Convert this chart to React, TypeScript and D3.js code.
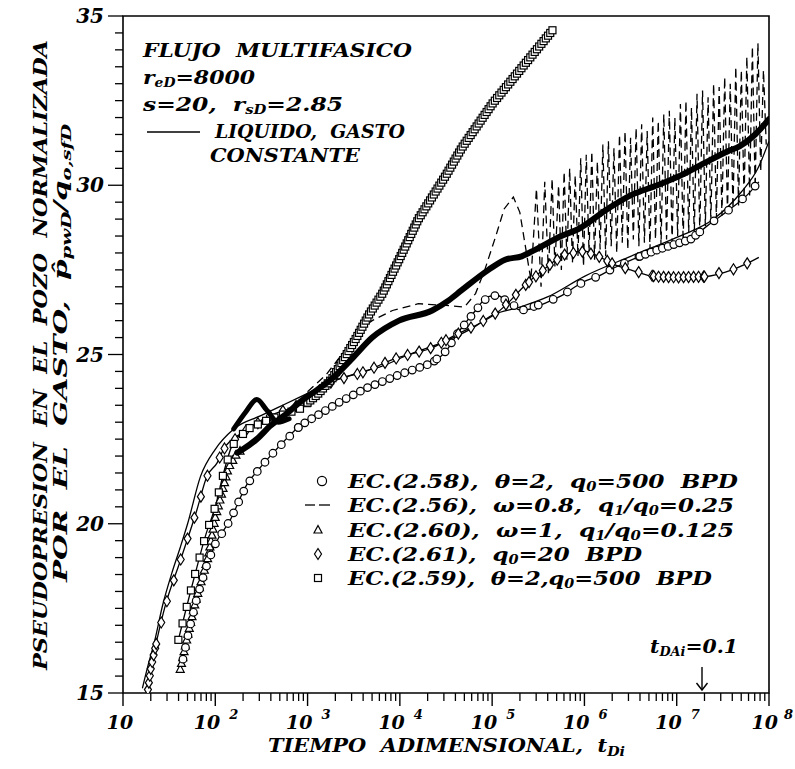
import React from 'react';
import * as d3 from 'd3';

const W = 795;
const H = 769;
const PLOT = { left: 123, right: 769, top: 16, bottom: 693 };

// ---------- data (x stored as log10 of t_Di) ----------
const liquidExp = [1.21, 1.27, 1.34, 1.43, 1.53, 1.62, 1.7, 1.84, 2.0, 2.2, 2.5, 2.73, 3.0, 3.27, 3.6, 3.8, 4.1, 4.5, 4.8, 5.0, 5.3, 5.6, 6.0, 6.5, 7.0, 7.4, 7.7, 7.88, 8.0];
const liquidVal = [15.14, 15.8, 16.5, 17.6, 18.55, 19.3, 20.0, 21.4, 22.2, 22.8, 23.2, 23.5, 23.85, 24.2, 24.5, 24.65, 25.0, 25.4, 25.8, 26.16, 26.4, 26.7, 27.31, 27.9, 28.46, 29.0, 29.8, 30.5, 31.3];

const circleExp = [1.65, 1.72, 1.8, 1.91, 2.0, 2.16, 2.34, 2.5, 2.63, 2.92, 3.35, 3.63, 3.99, 4.35, 4.5, 4.62, 4.82, 4.95, 5.05, 5.15, 5.32, 5.6, 5.79, 5.9, 6.0, 6.14, 6.33, 6.6, 6.8, 6.97, 7.15, 7.33, 7.58, 7.76, 7.89];
const circleVal = [16.0, 16.9, 17.8, 18.8, 19.4, 20.1, 21.15, 21.7, 22.1, 22.9, 23.6, 24.0, 24.4, 24.75, 25.1, 25.6, 26.3, 26.7, 26.75, 26.6, 26.3, 26.55, 26.8, 27.0, 27.16, 27.3, 27.57, 27.9, 28.1, 28.25, 28.4, 28.8, 29.3, 29.7, 30.1];

const dashedExp = [3.0, 3.2, 3.4, 3.55, 3.7, 3.92, 4.2, 4.5, 4.7, 4.82, 4.92, 5.04, 5.13, 5.23, 5.3, 5.36, 5.42,
  5.48, 5.53, 5.57, 5.61, 5.65, 5.68, 5.72, 5.75, 5.78, 5.81, 5.84, 5.87, 5.9, 5.93, 5.96, 5.99,
  6.02, 6.05, 6.08, 6.11, 6.14, 6.17, 6.2, 6.23, 6.26, 6.29, 6.32, 6.35, 6.38, 6.41, 6.44, 6.47,
  6.5, 6.53, 6.56, 6.59, 6.62, 6.65, 6.68, 6.71, 6.74, 6.77, 6.8, 6.83, 6.86, 6.89, 6.92, 6.95,
  6.98, 7.01, 7.04, 7.07, 7.1, 7.13, 7.16, 7.19, 7.22, 7.25, 7.28, 7.31, 7.34, 7.37, 7.4, 7.43,
  7.46, 7.49, 7.52, 7.55, 7.58, 7.61, 7.64, 7.67, 7.7, 7.73, 7.76, 7.79, 7.82, 7.85, 7.88, 7.91, 7.94, 7.97];
const dashedVal = [23.9, 24.4, 25.1, 25.7, 26.0, 26.3, 26.5, 26.45, 26.4, 26.8, 27.5, 28.5, 29.3, 29.65, 29.2, 28.2, 27.2,
  29.9, 27.0, 30.1, 27.4, 30.2, 27.6, 30.0, 27.5, 30.4, 27.8, 30.5, 27.7, 30.3, 27.9, 30.8, 27.6,
  30.9, 28.0, 31.0, 27.8, 30.7, 28.1, 31.2, 27.9, 31.3, 28.2, 31.1, 28.0, 31.5, 28.3, 31.6, 28.1,
  31.4, 28.4, 31.7, 28.2, 31.8, 28.3, 31.6, 28.1, 32.0, 28.4, 31.9, 28.2, 32.1, 28.4, 32.2, 28.3,
  32.0, 28.5, 32.4, 28.3, 32.5, 28.6, 32.3, 28.5, 32.7, 28.6, 32.8, 28.8, 32.6, 28.9, 33.0, 29.0,
  32.9, 29.1, 33.2, 29.2, 33.0, 29.3, 33.5, 29.4, 33.4, 29.6, 33.8, 29.7, 34.1, 29.9, 34.2, 30.4, 33.4, 31.2];

const triangleExp = [1.62, 1.7, 1.79, 1.92, 2.0, 2.08, 2.14, 2.24, 2.3, 2.45, 2.6, 2.75, 2.92, 3.1, 3.27, 3.49, 3.7, 3.99, 4.35, 4.53, 4.67, 4.96, 5.14, 5.32, 5.47, 5.75, 5.93, 6.25, 6.5, 6.79, 7.05, 7.33, 7.55, 7.68, 7.85, 8.0];
const triangleVal = [15.7, 16.7, 17.75, 19.0, 20.2, 21.0, 21.65, 22.1, 22.2, 22.5, 22.9, 23.2, 23.6, 23.95, 24.3, 24.9, 25.5, 26.0, 26.3, 26.6, 26.9, 27.5, 27.8, 27.9, 28.1, 28.5, 28.7, 29.3, 29.7, 30.0, 30.3, 30.7, 31.0, 31.15, 31.5, 31.95];
const bumpExp = [2.2, 2.33, 2.45, 2.56, 2.68, 2.8];
const bumpVal = [22.8, 23.3, 23.67, 23.35, 23.0, 23.1];

const diamondExp = [1.27, 1.3, 1.33, 1.45, 1.62, 1.8, 1.91, 2.02, 2.09, 2.3, 2.6, 2.9, 3.27, 3.63, 3.92, 4.1, 4.35, 4.62, 4.85, 5.07, 5.2, 5.34, 5.6, 5.79, 6.0, 6.15, 6.33, 6.5, 6.77, 7.0, 7.3, 7.6, 7.74, 7.89];
const diamondVal = [15.1, 15.7, 16.1, 17.5, 18.9, 20.4, 21.4, 21.8, 22.2, 22.7, 23.2, 23.5, 24.2, 24.5, 24.85, 25.0, 25.2, 25.6, 25.9, 26.27, 26.6, 27.0, 27.6, 27.96, 28.05, 27.9, 27.65, 27.5, 27.3, 27.28, 27.3, 27.5, 27.66, 27.87];

const squareExp = [1.6, 1.78, 1.9, 2.0, 2.09, 2.18, 2.35, 2.6, 2.92, 3.1, 3.27, 3.4, 3.53, 3.67, 3.81, 3.99, 4.2, 4.5, 4.67, 5.0, 5.33, 5.66];
const squareVal = [16.57, 18.5, 19.7, 20.5, 21.5, 22.3, 22.8, 23.1, 23.4, 23.8, 24.3, 24.9, 25.5, 26.2, 26.8, 27.8, 29.0, 30.3, 31.1, 32.4, 33.5, 34.6];

// marker runs: [fromExp, toExp, spacing in px along the curve]
const circleRuns = [[1.64, 2.9, 12], [2.9, 4.4, 8], [4.4, 5.5, 11], [5.5, 6.6, 16], [6.6, 7.25, 6], [7.25, 7.9, 18]];
const squareRuns = [[1.6, 2.3, 17], [2.3, 3.0, 9], [3.0, 5.66, 3.5]];
const diamondRuns = [[1.27, 1.36, 7], [1.36, 2.1, 22], [2.1, 3.6, 14], [3.6, 4.5, 12], [4.5, 5.4, 14], [5.4, 6.3, 9], [6.3, 6.75, 14], [6.75, 7.3, 5], [7.3, 7.9, 15]];
const triangleRuns = [[1.62, 2.28, 6]];

const yTicks = [15, 20, 25, 30, 35];
const xDecades = [1, 2, 3, 4, 5, 6, 7, 8];

const legendLabels = ['2.58', '2.56', '2.60', '2.61', '2.59'];

const FONT = 'DejaVu Serif';

const xScale = d3.scaleLog().domain([10, 1e8]).range([PLOT.left, PLOT.right]);
const yScale = d3.scaleLinear().domain([15, 35]).range([PLOT.bottom, PLOT.top]);

function toPts(exp: number[], val: number[]): [number, number][] {
  return exp.map((e, i) => [xScale(Math.pow(10, e)), yScale(val[i])] as [number, number]);
}

function sampleMarkers(pts: [number, number][], runs: number[][]) {
  const out: [number, number][] = [];
  for (const [a, b, sp] of runs) {
    const x0 = xScale(Math.pow(10, a));
    const x1 = xScale(Math.pow(10, b));
    let since = sp;
    for (let i = 0; i < pts.length - 1; i++) {
      const p = pts[i];
      const q = pts[i + 1];
      if (q[0] <= x0 || p[0] >= x1) continue;
      const dx = q[0] - p[0];
      const t0 = p[0] < x0 ? (x0 - p[0]) / dx : 0;
      const t1 = q[0] > x1 ? (x1 - p[0]) / dx : 1;
      const segLen = Math.hypot(q[0] - p[0], q[1] - p[1]);
      const ux = (q[0] - p[0]) / segLen;
      const uy = (q[1] - p[1]) / segLen;
      const sx = p[0] + (q[0] - p[0]) * t0;
      const sy = p[1] + (q[1] - p[1]) * t0;
      const L = segLen * (t1 - t0);
      let s = 0;
      while (L - s >= sp - since) {
        s += sp - since;
        out.push([sx + ux * s, sy + uy * s]);
        since = 0;
      }
      since += L - s;
    }
  }
  return out;
}

function Marker({ type, x, y, k }: { type: string; x: number; y: number; k?: number }) {
  const sw = 1.2;
  const s = k || 1;
  if (type === 'circle') return <circle cx={x} cy={y} r={3.8 * s} fill="white" stroke="black" strokeWidth={sw} />;
  if (type === 'square') return <rect x={x - 3.5 * s} y={y - 3.5 * s} width={7 * s} height={7 * s} fill="white" stroke="black" strokeWidth={sw} />;
  if (type === 'diamond') return <path d={`M${x},${y - 5.5 * s}L${x + 3.5 * s},${y}L${x},${y + 5.5 * s}L${x - 3.5 * s},${y}Z`} fill="white" stroke="black" strokeWidth={sw} />;
  return <path d={`M${x},${y - 4.5 * s}L${x + 4 * s},${y + 3 * s}L${x - 4 * s},${y + 3 * s}Z`} fill="white" stroke="black" strokeWidth={sw} />;
}

const lineGen = d3.line<[number, number]>().x(d => d[0]).y(d => d[1]).curve(d3.curveMonotoneX);
const linLine = d3.line<[number, number]>().x(d => d[0]).y(d => d[1]);

export default function App() {
  const liquid = toPts(liquidExp, liquidVal);
  const circles = toPts(circleExp, circleVal);
  const dashed = toPts(dashedExp, dashedVal);
  const tri = toPts(triangleExp, triangleVal);
  const triThick = toPts(triangleExp.filter(e => e >= 2.24), triangleVal.filter((v, i) => triangleExp[i] >= 2.24));
  const bump = toPts(bumpExp, bumpVal);
  const dia = toPts(diamondExp, diamondVal);
  const sq = toPts(squareExp, squareVal);

  const textStyle = { fontFamily: FONT, fontWeight: 'bold' as const, fontStyle: 'italic' as const, whiteSpace: 'pre' as const };

  const minorX: number[] = [];
  for (let k = 1; k < 8; k++) for (let m = 2; m <= 9; m++) minorX.push(m * Math.pow(10, k));
  const minorY: number[] = [];
  for (let v = 15; v <= 35.001; v += 0.5) minorY.push(v);

  const legendY = [481, 505, 530, 554, 578];

  return (
    <svg width={W} height={H} style={{ position: 'absolute', left: 0, top: 0, background: 'white' }}>
      <defs>
        <clipPath id="plotClip">
          <rect x={PLOT.left} y={PLOT.top} width={PLOT.right - PLOT.left} height={PLOT.bottom - PLOT.top} />
        </clipPath>
      </defs>
      <rect x={0} y={0} width={W} height={H} fill="white" />

      {/* frame */}
      <path d={`M${PLOT.left},${PLOT.top}H${PLOT.right}V${PLOT.bottom}H${PLOT.left}Z`} fill="none" stroke="black" strokeWidth={1.6} />

      {/* y ticks */}
      {minorY.map(v => (
        <line key={'y' + v} x1={PLOT.left - (Math.abs(v % 5) < 1e-6 ? 15 : 8)} x2={PLOT.left} y1={yScale(v)} y2={yScale(v)} stroke="black" strokeWidth={1.3} />
      ))}
      {yTicks.map(v => (
        <text key={'yl' + v} x={104} y={yScale(v) + 7} textAnchor="end" fontSize={20} style={textStyle}>{v}</text>
      ))}

      {/* x ticks */}
      {minorX.map(t => (
        <line key={'x' + t} x1={xScale(t)} x2={xScale(t)} y1={PLOT.bottom} y2={PLOT.bottom + 8} stroke="black" strokeWidth={1.3} />
      ))}
      {xDecades.map(k => (
        <line key={'xm' + k} x1={xScale(Math.pow(10, k))} x2={xScale(Math.pow(10, k))} y1={PLOT.bottom} y2={PLOT.bottom + 13} stroke="black" strokeWidth={1.4} />
      ))}
      {xDecades.map(k => {
        const xt = xScale(Math.pow(10, k));
        if (k === 1) return <text key={'xl' + k} x={xt - 3} y={729} textAnchor="middle" fontSize={19} style={textStyle}>10</text>;
        const off = k === 8 ? 9 : 5;
        const sup = k === 8 ? 6 : 9;
        return (
          <g key={'xl' + k}>
            <text x={xt + off} y={729} textAnchor="end" fontSize={19} style={textStyle}>10</text>
            <text x={xt + off + sup} y={719} fontSize={13} style={textStyle}>{k}</text>
          </g>
        );
      })}

      {/* axis titles */}
      <text x={268} y={752} fontSize={19} textLength={357} lengthAdjust="spacingAndGlyphs" style={textStyle}>
        TIEMPO  ADIMENSIONAL,  t<tspan fontSize={13} dy={4}>Di</tspan>
      </text>
      <g transform="translate(47,670) rotate(-90)">
        <text x={0} y={0} fontSize={18} textLength={630} lengthAdjust="spacingAndGlyphs" style={textStyle}>PSEUDOPRESION  EN  EL  POZO  NORMALIZADA</text>
      </g>
      <g transform="translate(67,582) rotate(-90)">
        <text x={0} y={0} fontSize={18} textLength={458} lengthAdjust="spacingAndGlyphs" style={textStyle}>
          POR  EL  GASTO,  {'p\u0302'}<tspan fontSize={12} dy={4}>pwD</tspan><tspan dy={-4}>/q</tspan><tspan fontSize={12} dy={4}>o,sfD</tspan>
        </text>
      </g>

      {/* curves */}
      <g clipPath="url(#plotClip)">
        <path d={lineGen(liquid) || ''} fill="none" stroke="black" strokeWidth={1.3} />
        <path d={lineGen(circles) || ''} fill="none" stroke="black" strokeWidth={1.3} />
        <path d={lineGen(dia) || ''} fill="none" stroke="black" strokeWidth={1.3} />
        <path d={lineGen(sq) || ''} fill="none" stroke="black" strokeWidth={1.3} />
        <path d={lineGen(tri) || ''} fill="none" stroke="black" strokeWidth={1.3} />
        <path d={linLine(dashed) || ''} fill="none" stroke="black" strokeWidth={1.3} strokeDasharray="8,5" />
        {sampleMarkers(tri, triangleRuns).map((p, i) => <Marker key={'t' + i} type="triangle" x={p[0]} y={p[1]} />)}
        {sampleMarkers(circles, circleRuns).map((p, i) => <Marker key={'c' + i} type="circle" x={p[0]} y={p[1]} />)}
        {sampleMarkers(dia, diamondRuns).map((p, i) => <Marker key={'d' + i} type="diamond" x={p[0]} y={p[1]} />)}
        {sampleMarkers(sq, squareRuns).map((p, i) => <Marker key={'s' + i} type="square" x={p[0]} y={p[1]} />)}
        <path d={lineGen(triThick) || ''} fill="none" stroke="black" strokeWidth={6} strokeLinejoin="round" strokeLinecap="round" />
        <path d={lineGen(bump) || ''} fill="none" stroke="black" strokeWidth={5} strokeLinejoin="round" strokeLinecap="round" />
      </g>

      {/* annotation block */}
      <text x={143} y={57} fontSize={19} textLength={269} lengthAdjust="spacingAndGlyphs" style={textStyle}>FLUJO  MULTIFASICO</text>
      <text x={143} y={84} fontSize={19} textLength={112} lengthAdjust="spacingAndGlyphs" style={textStyle}>
        r<tspan fontSize={12} dy={3}>eD</tspan><tspan dy={-3}>=8000</tspan>
      </text>
      <text x={143} y={111} fontSize={19} textLength={200} lengthAdjust="spacingAndGlyphs" style={textStyle}>
        s=20,  r<tspan fontSize={12} dy={3}>sD</tspan><tspan dy={-3}>=2.85</tspan>
      </text>
      <line x1={147} x2={200} y1={132} y2={132} stroke="black" strokeWidth={1.4} />
      <text x={215} y={138} fontSize={19} textLength={190} lengthAdjust="spacingAndGlyphs" style={textStyle}>LIQUIDO,  GASTO</text>
      <text x={210} y={162} fontSize={19} textLength={150} lengthAdjust="spacingAndGlyphs" style={textStyle}>CONSTANTE</text>

      {/* legend */}
      <Marker type="circle" x={322} y={legendY[0]} k={1.2} />
      <line x1={305} x2={315} y1={legendY[1]} y2={legendY[1]} stroke="black" strokeWidth={1.3} />
      <line x1={319} x2={330} y1={legendY[1]} y2={legendY[1]} stroke="black" strokeWidth={1.3} />
      <Marker type="triangle" x={318} y={legendY[2]} />
      <Marker type="diamond" x={318} y={legendY[3]} />
      <Marker type="square" x={318} y={legendY[4]} />

      <text x={348} y={legendY[0] + 7} fontSize={19} textLength={390} lengthAdjust="spacingAndGlyphs" style={textStyle}>
        EC.({legendLabels[0]}),  θ=2,  q<tspan fontSize={12} dy={3}>0</tspan><tspan dy={-3}>=500  BPD</tspan>
      </text>
      <text x={348} y={legendY[1] + 7} fontSize={19} textLength={386} lengthAdjust="spacingAndGlyphs" style={textStyle}>
        EC.({legendLabels[1]}),  ω=0.8,  q<tspan fontSize={12} dy={3}>1</tspan><tspan dy={-3}>/q</tspan><tspan fontSize={12} dy={3}>0</tspan><tspan dy={-3}>=0.25</tspan>
      </text>
      <text x={348} y={legendY[2] + 7} fontSize={19} textLength={386} lengthAdjust="spacingAndGlyphs" style={textStyle}>
        EC.({legendLabels[2]}),  ω=1,  q<tspan fontSize={12} dy={3}>1</tspan><tspan dy={-3}>/q</tspan><tspan fontSize={12} dy={3}>0</tspan><tspan dy={-3}>=0.125</tspan>
      </text>
      <text x={348} y={legendY[3] + 7} fontSize={19} textLength={294} lengthAdjust="spacingAndGlyphs" style={textStyle}>
        EC.({legendLabels[3]}),  q<tspan fontSize={12} dy={3}>0</tspan><tspan dy={-3}>=20  BPD</tspan>
      </text>
      <text x={348} y={legendY[4] + 7} fontSize={19} textLength={364} lengthAdjust="spacingAndGlyphs" style={textStyle}>
        EC.({legendLabels[4]}),  θ=2,q<tspan fontSize={12} dy={3}>0</tspan><tspan dy={-3}>=500  BPD</tspan>
      </text>

      {/* t_DAi annotation */}
      <text x={650} y={653} fontSize={19} textLength={88} lengthAdjust="spacingAndGlyphs" style={textStyle}>
        t<tspan fontSize={12} dy={3}>DAi</tspan><tspan dy={-3}>=0.1</tspan>
      </text>
      <line x1={702} x2={702} y1={667} y2={690} stroke="black" strokeWidth={1.4} />
      <path d="M696.5,683 L702,690 L707.5,683" fill="none" stroke="black" strokeWidth={1.4} />
    </svg>
  );
}
